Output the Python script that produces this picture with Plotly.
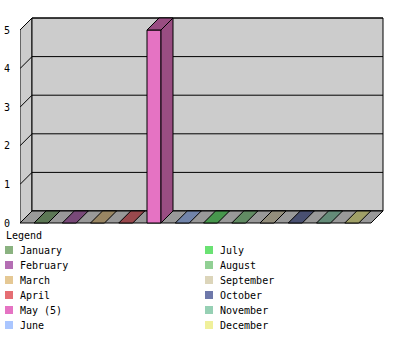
import plotly.graph_objects as go

# ---- data ----
months = ["January", "February", "March", "April", "May", "June",
          "July", "August", "September", "October", "November", "December"]
values = [0, 0, 0, 0, 5, 0, 0, 0, 0, 0, 0, 0]
colors = ["#8AB280", "#B46EB4", "#E5C894", "#E56E73", "#E573C3", "#AAC6FF",
          "#6AE273", "#91D094", "#DCD5BA", "#6E78AA", "#96D0B4", "#F0F09B"]
y_ticks = [0, 1, 2, 3, 4, 5]
legend_title = "Legend"

# ---- geometry (pixels) ----
W, H = 400, 350
ML, MR, MT, MB = 20, 10, 10, 124
plot_w, plot_h = W - ML - MR, H - MT - MB
slot_px, unit_px, depth_px = 28.25, 38.6, 12
first_center_px, zero_px, right_front_px = 41, 223, 371

x_lo = (ML - first_center_px) / slot_px
x_hi = (W - MR - first_center_px) / slot_px
y_lo = -((H - MB) - zero_px) / unit_px
y_hi = (zero_px - MT) / unit_px
dx = depth_px / slot_px
dy = depth_px / unit_px
L = x_lo
R = (right_front_px - first_center_px) / slot_px
half = 7 / slot_px
ymax = max(y_ticks)


def shade(hexcol, f=0.67):
    r, g, b = (int(hexcol[i:i + 2], 16) for i in (1, 3, 5))
    return "#%02X%02X%02X" % (int(r * f), int(g * f), int(b * f))


fig = go.Figure()


def poly(pts, fill, line="black"):
    xs = [p[0] for p in pts] + [pts[0][0]]
    ys = [p[1] for p in pts] + [pts[0][1]]
    fig.add_trace(go.Scatter(x=xs, y=ys, mode="lines", fill="toself",
                             fillcolor=fill, line=dict(color=line, width=1),
                             hoverinfo="skip", showlegend=False))


def line(pts):
    fig.add_trace(go.Scatter(x=[p[0] for p in pts], y=[p[1] for p in pts],
                             mode="lines", line=dict(color="black", width=1),
                             hoverinfo="skip", showlegend=False))


# walls
poly([(L, 0), (L, ymax), (L + dx, ymax + dy), (L + dx, dy)], "#CCCCCC")
poly([(L + dx, dy), (L + dx, ymax + dy), (R + dx, ymax + dy), (R + dx, dy)], "#CCCCCC")
for t in y_ticks:
    line([(L, t), (L + dx, t + dy), (R + dx, t + dy)])
# floor
poly([(L, 0), (R, 0), (R + dx, dy), (L + dx, dy)], "#999999")

# bars
for i, (v, c) in enumerate(zip(values, colors)):
    x0, x1 = i - half, i + half
    dark = shade(c)
    if v > 0:
        poly([(x0, 0), (x1, 0), (x1, v), (x0, v)], c)
        poly([(x1, 0), (x1 + dx, dy), (x1 + dx, v + dy), (x1, v)], dark)
    poly([(x0, v), (x1, v), (x1 + dx, v + dy), (x0 + dx, v + dy)], dark)


# legend (drawn in paper coordinates)
def px2paper(px, py):
    return (px - ML) / plot_w, (H - MB - py) / plot_h


annotations = []
shapes = []
font = dict(family="DejaVu Sans Mono", size=10, color="black")
lx, ly = px2paper(4, 235)
annotations.append(dict(x=lx, y=ly, xref="paper", yref="paper", text=legend_title,
                        showarrow=False, xanchor="left", yanchor="middle", font=font))
for i, (m, v, c) in enumerate(zip(months, values, colors)):
    col, row = divmod(i, 6)
    bx = 5 + 200 * col
    by = 246 + 15 * row
    x0, y0 = px2paper(bx, by)
    x1, y1 = px2paper(bx + 8, by + 8)
    shapes.append(dict(type="rect", xref="paper", yref="paper", x0=x0, x1=x1,
                       y0=y1, y1=y0, fillcolor=c, line=dict(width=0)))
    tx, ty = px2paper(bx + 13, by + 4)
    label = f"{m} ({v})" if v else m
    annotations.append(dict(x=tx, y=ty, xref="paper", yref="paper", text=label,
                            showarrow=False, xanchor="left", yanchor="middle", font=font))

fig.update_layout(
    width=W, height=H, margin=dict(l=ML, r=MR, t=MT, b=MB),
    paper_bgcolor="white", plot_bgcolor="white",
    showlegend=False, annotations=annotations, shapes=shapes,
    xaxis=dict(range=[x_lo, x_hi], visible=False, fixedrange=True, automargin=False),
    yaxis=dict(range=[y_lo, y_hi], tickvals=y_ticks, ticktext=[str(t) for t in y_ticks],
               showgrid=False, zeroline=False, showline=False, automargin=False,
               ticks="outside", ticklen=7, tickcolor="rgba(0,0,0,0)",
               tickfont=font, fixedrange=True),
)
fig.write_html("out.html")
